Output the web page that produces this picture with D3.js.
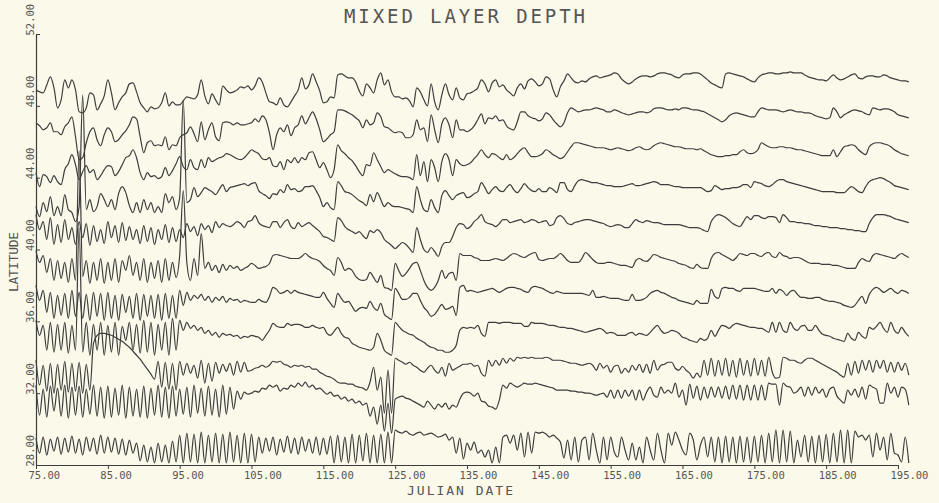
<!DOCTYPE html>
<html>
<head>
<meta charset="utf-8">
<script src="https://cdn.jsdelivr.net/npm/d3@7/dist/d3.min.js"></script>
<style>
  html, body { margin: 0; padding: 0; background: #fbf9e9; }
  svg { display: block; }
  text { font-family: "DejaVu Sans Mono", "Liberation Mono", monospace; fill: #555; }
</style>
</head>
<body>
<svg id="chart" width="939" height="503"></svg>
<script>
// Titles and tick values
const chartTitle = "MIXED LAYER DEPTH";
const xTitle = "JULIAN DATE";
const yTitle = "LATITUDE";
const xTickValues = [75, 85, 95, 105, 115, 125, 135, 145, 155, 165, 175, 185, 195];
const yTickValues = [28, 32, 36, 40, 44, 48, 52];

// One trace per latitude; samples every half day starting at day 75
const latitudes = [28, 30, 32, 34, 36, 38, 40, 42, 44, 46, 48];
const firstDay = 75;
const dayStep = 0.5;
// metres of mixed layer depth drawn per degree of latitude
const metresPerDegree = 18;

// Mixed layer depth (m), one array per latitude
const mld48 = [
  16,14,13,21,29,18,-2,6,26,18,26,16,-6,-7,-2,13,11,-4,2,10,
  26,13,-4,3,9,13,22,23,14,3,-2,-6,-1,-3,-2,3,13,0,4,1,
  1,5,9,8,7,11,26,10,2,12,6,1,20,16,13,14,16,19,18,20,
  16,20,28,24,13,4,3,1,8,1,-1,4,10,16,28,17,21,32,24,15,
  3,4,9,8,31,32,30,28,28,24,15,10,22,18,13,26,33,21,26,14,
  9,9,7,8,5,-1,18,14,6,0,22,4,-4,11,22,11,6,18,8,6,
  12,13,15,18,26,22,14,23,26,19,21,16,13,10,18,22,17,25,27,24,
  20,22,29,27,16,9,19,25,32,28,24,23,25,24,27,29,30,28,29,30,
  31,33,32,27,24,22,24,27,29,30,30,29,30,32,33,33,32,31,29,28,
  31,32,32,33,33,32,29,26,23,21,19,18,32,33,32,31,30,29,27,25,
  24,28,31,32,33,33,32,32,33,33,34,33,33,33,31,29,28,27,26,26,
  25,28,31,28,26,27,29,31,32,28,27,29,30,30,29,29,31,30,28,27,
  26,25,25,24
];
const mld46 = [
  19,16,12,14,19,10,10,7,15,19,25,5,-18,-16,-1,10,14,2,-4,7,
  14,10,0,2,7,11,17,25,23,5,-11,-1,1,-4,-3,-4,5,-8,-3,-4,
  4,7,9,15,8,0,20,2,12,19,5,1,19,20,19,17,19,17,17,18,
  19,23,20,26,22,9,-8,7,14,10,17,6,14,17,26,18,24,30,23,12,
  0,3,7,10,32,32,31,29,27,24,21,14,22,17,19,29,25,15,14,11,
  9,10,9,4,4,7,22,12,14,0,27,12,-1,18,24,17,4,22,12,12,
  10,12,16,22,28,18,24,23,26,21,22,16,13,12,20,30,30,26,24,23,
  21,23,29,27,22,18,15,19,29,34,32,30,31,32,32,33,34,33,32,30,
  30,32,31,29,28,27,28,29,30,30,29,30,33,34,34,33,32,32,33,32,
  34,34,33,32,32,31,30,28,26,24,22,20,22,26,28,29,28,27,26,25,
  25,30,34,33,32,32,32,31,30,31,32,31,30,30,29,29,28,26,25,24,
  23,24,34,30,24,27,29,31,32,31,30,28,27,34,33,32,33,33,32,30,
  27,26,25,24
];
const mld44 = [
  5,-9,3,1,-5,2,-4,-7,8,14,23,13,-2,6,12,5,8,-2,2,8,
  12,11,2,6,13,20,22,28,20,5,-2,5,1,2,-1,1,10,2,7,14,
  21,11,8,18,10,8,18,10,20,16,18,20,21,24,23,21,19,18,20,24,
  28,26,24,19,18,20,12,11,16,8,18,15,20,15,20,18,25,26,18,10,
  15,8,0,8,33,27,24,20,17,12,6,2,13,12,25,18,11,5,8,6,
  4,2,1,1,0,-2,23,2,16,-4,18,10,-4,16,24,18,2,18,14,12,
  13,15,19,23,28,23,20,24,23,20,18,23,18,20,24,28,30,25,21,21,
  22,24,28,26,23,21,19,21,26,31,35,35,34,33,32,31,30,30,30,29,
  28,29,30,29,28,27,28,30,31,29,28,29,32,34,35,34,33,32,31,31,
  30,29,29,29,28,29,27,25,23,22,21,21,22,22,23,23,26,28,25,24,
  25,28,35,33,31,30,30,31,31,30,30,29,28,28,27,26,25,24,23,22,
  22,22,28,21,26,31,32,33,32,28,25,23,31,34,35,35,34,33,31,28,
  26,24,23,22
];
const mld42 = [
  7,-3,11,2,17,-2,7,-2,19,4,1,-8,7,119,4,14,2,7,20,14,
  7,14,4,20,27,21,8,1,11,1,14,4,11,1,7,1,20,11,17,4,
  16,114,11,14,26,17,21,26,24,22,19,24,29,22,26,27,28,29,30,28,
  30,31,23,20,18,15,20,19,24,21,29,24,25,22,23,27,27,28,23,16,
  7,11,6,4,32,28,22,21,19,16,13,11,8,19,12,21,14,7,11,8,
  7,7,6,5,4,1,27,14,4,2,14,6,1,18,23,18,14,18,20,21,
  16,17,20,22,31,26,20,24,27,23,22,26,29,24,21,25,30,26,23,22,
  25,22,22,26,24,21,31,31,24,22,28,33,34,33,32,31,31,30,29,28,
  28,27,27,27,28,29,30,28,28,29,30,31,32,31,29,29,29,28,27,27,
  26,26,26,26,26,26,24,22,23,28,26,24,25,25,26,26,27,29,29,26,
  32,31,30,28,27,29,32,34,34,32,31,30,29,28,27,26,25,24,23,22,
  22,22,22,21,21,21,24,27,25,22,21,27,32,34,35,36,35,33,31,28,
  27,26,25,24
];
const mld40 = [
  35,20,28,10,32,5,25,7,30,10,22,5,28,12,26,4,24,8,20,6,
  28,12,24,7,27,9,23,10,20,6,24,8,22,5,20,10,25,7,22,8,
  20,12,26,18,23,14,26,20,24,17,28,22,26,24,23,25,28,26,22,28,
  29,34,27,24,23,22,28,28,22,27,30,23,21,27,23,25,27,24,21,18,
  13,12,10,8,32,29,23,20,18,16,18,14,11,19,17,20,17,10,7,4,
  1,4,7,5,1,-3,22,10,0,-3,2,-2,-7,3,7,7,13,22,26,25,
  21,23,28,31,35,28,26,25,23,26,30,30,27,28,29,30,27,28,30,29,
  27,28,29,24,25,32,34,31,26,25,27,28,29,30,30,29,28,27,26,24,
  23,24,25,24,22,22,26,30,28,27,29,28,27,27,26,25,25,25,25,25,
  24,23,22,22,22,21,19,18,28,33,35,34,32,29,26,24,23,28,33,30,
  34,34,32,31,33,33,32,27,35,32,28,28,27,27,26,26,25,24,24,23,
  23,22,22,22,21,21,20,20,19,19,18,18,26,32,35,35,35,34,33,31,
  30,29,28,27
];
const mld38 = [
  35,23,30,13,27,5,25,7,23,3,27,5,135,9,25,2,23,5,27,2,
  23,5,27,3,25,15,30,10,23,5,27,3,23,7,25,3,27,5,23,8,
  30,95,23,5,27,10,52,17,23,15,20,13,21,15,20,17,19,15,17,19,
  22,20,17,18,19,22,30,31,30,29,28,27,27,27,29,32,29,27,26,24,
  20,17,15,10,28,23,15,17,15,9,6,5,6,13,8,3,10,-2,-3,-5,
  22,15,9,12,17,22,23,15,5,-2,-5,-2,5,15,7,12,13,5,32,30,
  30,30,28,27,25,25,25,26,27,26,25,27,30,32,31,29,28,30,32,33,
  26,25,26,27,27,29,32,29,25,23,23,23,27,33,30,26,23,22,22,23,
  23,22,21,20,20,19,18,25,27,25,24,27,31,30,28,27,26,25,24,22,
  21,20,18,17,21,18,17,17,27,32,33,31,29,27,25,28,32,31,30,32,
  32,30,29,32,33,29,28,33,30,29,27,28,28,27,25,23,22,22,22,21,
  21,21,20,20,19,18,17,17,17,23,27,25,24,30,32,31,30,29,28,27,
  30,32,30,28
];
const mld36 = [
  36,21,31,9,29,3,26,6,28,3,31,5,29,3,27,1,29,5,28,1,
  29,3,26,1,27,9,25,3,28,1,27,5,26,3,27,1,28,3,26,3,
  31,16,29,21,26,23,27,21,25,19,24,21,25,19,23,21,22,19,21,20,
  19,19,22,20,19,25,34,32,28,29,31,28,31,29,28,27,26,25,24,24,
  29,23,18,14,28,23,19,20,15,10,13,14,13,20,14,11,18,7,4,2,
  33,28,22,22,24,28,28,21,14,10,5,7,12,17,12,13,15,6,34,36,
  30,31,30,29,30,31,32,33,31,29,31,33,34,34,33,32,30,29,34,35,
  34,33,31,29,28,30,29,28,28,28,28,28,28,27,26,31,24,24,25,24,
  23,23,23,22,21,21,27,21,21,22,24,28,30,31,29,28,26,24,23,21,
  20,19,18,17,21,18,18,18,32,25,23,33,34,33,33,31,30,33,33,33,
  33,32,31,30,30,33,28,32,30,26,30,31,27,24,24,23,23,24,24,22,
  21,20,20,19,18,16,15,14,16,21,25,18,27,32,34,32,29,31,33,30,
  28,31,30,28
];
const mld34 = [
  37,22,32,7,35,5,33,7,35,4,32,7,130,5,35,2,33,7,35,2,
  32,5,35,2,31,17,35,7,33,4,37,5,35,2,33,7,35,2,39,7,
  37,27,35,29,32,27,30,24,27,22,25,20,24,22,23,21,22,19,21,20,
  22,21,20,17,22,27,34,31,30,30,34,32,33,33,32,30,30,32,30,29,
  30,24,22,26,30,24,20,19,14,12,10,9,8,7,10,24,17,7,4,2,
  35,31,27,25,23,22,19,17,15,12,10,9,7,7,5,5,7,12,27,30,
  29,30,29,32,24,21,35,35,35,34,35,35,35,34,34,34,31,31,35,34,
  34,34,33,32,32,31,30,30,29,29,28,27,26,25,26,27,28,29,27,24,
  25,24,22,22,22,24,25,22,24,23,22,25,29,32,27,24,25,27,26,24,
  20,19,17,16,15,19,17,19,27,21,27,32,31,29,32,34,33,32,31,30,
  30,29,29,27,25,35,25,35,27,25,35,29,27,31,32,27,27,32,27,23,
  22,21,19,18,17,16,24,19,17,25,21,19,30,28,31,35,29,25,35,27,
  24,30,25,21
];
const mld32 = [
  33,8,28,2,30,0,29,3,32,1,30,2,31,0,29,3,50,58,60,60,
  59,58,56,54,52,49,46,42,38,34,29,24,19,14,32,6,31,4,30,3,
  32,18,30,20,28,15,33,10,30,12,31,20,29,22,30,18,32,21,31,22,
  23,25,26,28,26,28,32,31,32,29,28,26,28,27,28,26,27,24,24,21,
  19,17,16,14,11,10,10,9,9,7,6,5,3,11,26,3,16,-20,23,-20,
  35,33,31,29,31,28,26,23,21,25,28,23,20,26,17,30,23,25,27,29,
  29,30,27,28,20,17,33,27,33,28,35,30,35,32,36,35,36,35,36,35,
  35,35,36,35,33,33,33,32,31,30,30,29,28,29,30,28,23,30,25,28,
  21,27,28,20,25,21,28,23,29,21,29,20,33,23,28,29,31,31,25,23,
  27,23,20,15,20,16,33,18,35,17,33,18,35,17,33,16,35,18,33,17,
  35,18,33,17,36,21,15,16,36,35,33,33,31,30,33,35,35,33,31,29,
  27,25,23,21,18,16,30,18,32,20,33,23,33,21,33,25,33,21,31,21,
  31,23,30,18
];
const mld30 = [
  44,14,40,12,43,18,41,13,44,11,42,14,43,12,40,15,44,13,42,11,
  43,12,41,14,44,11,42,13,40,12,43,11,41,14,44,12,42,11,43,13,
  40,15,42,12,44,16,41,13,43,14,40,12,44,15,42,20,38,30,37,35,
  36,38,37,41,40,44,42,44,38,41,40,44,42,46,43,47,42,44,40,41,
  38,35,37,33,34,30,32,28,30,26,28,24,26,13,22,5,24,-2,26,-4,
  30,32,33,31,30,28,26,24,22,28,24,20,25,22,26,20,24,22,30,36,
  37,36,33,36,28,27,23,22,20,29,44,41,46,44,42,44,46,45,45,46,
  45,44,43,42,41,39,39,39,39,38,38,37,37,36,36,35,34,35,36,32,
  39,31,39,31,39,33,39,29,39,29,37,42,34,32,42,36,39,36,46,32,
  39,24,45,31,43,29,42,31,42,32,42,31,43,30,44,30,44,29,44,29,
  44,29,44,29,46,45,45,24,46,43,42,36,38,42,33,42,34,42,36,40,
  32,40,42,33,29,26,39,34,40,32,42,30,44,42,40,26,26,46,36,42,
  32,42,40,24
];
const mld28 = [
  27,12,28,10,26,14,28,11,27,13,29,12,26,10,28,14,27,11,30,12,
  28,13,27,11,26,10,25,12,22,4,20,3,18,2,22,3,20,2,24,3,
  30,2,32,3,31,2,33,2,30,3,32,2,31,2,33,3,30,2,32,2,
  31,3,28,12,27,14,28,10,26,13,29,12,27,11,28,14,26,12,28,10,
  27,11,29,2,30,3,28,2,31,2,30,4,32,2,30,2,31,2,33,2,
  35,33,32,34,31,30,32,33,30,31,32,30,28,29,31,25,28,12,27,6,
  22,15,23,12,15,8,15,2,18,2,28,30,22,30,15,32,8,33,12,33,
  32,33,31,28,30,27,23,7,25,5,28,3,25,28,5,32,15,2,28,5,
  28,13,8,28,15,5,22,5,18,2,28,15,5,32,15,2,32,20,33,25,
  15,10,32,25,5,20,28,8,28,3,28,2,29,3,28,2,29,3,28,2,
  29,3,30,2,32,3,35,2,35,3,34,2,25,8,30,3,29,2,30,3,
  31,2,32,3,35,2,35,2,34,28,30,25,30,8,32,15,28,5,32,12,
  10,3,28,2
];

const traces = [mld28, mld30, mld32, mld34, mld36, mld38, mld40, mld42, mld44, mld46, mld48]
  .map((values, i) => ({ lat: latitudes[i], values }));

const svg = d3.select("#chart");
const ink = "#3d3d3d";

const x = d3.scaleLinear().domain([75, 195]).range([36, 898]);
const y = d3.scaleLinear().domain([28, 52]).range([465, 34]);

// Traces
const line = d3.line()
  .x((d, i) => x(firstDay + i * dayStep))
  .curve(d3.curveMonotoneX);

svg.append("g")
  .selectAll("path")
  .data(traces)
  .join("path")
  .attr("fill", "none")
  .attr("stroke", ink)
  .attr("stroke-width", 1.2)
  .attr("stroke-linejoin", "round")
  .attr("d", t => line.y(d => y(t.lat + d / metresPerDegree))(t.values));

// X axis
const fmt = d3.format(".2f");
const gx = svg.append("g")
  .attr("transform", `translate(0,${y(28)})`)
  .call(d3.axisBottom(x).tickValues(xTickValues).tickFormat(fmt).tickSize(4).tickSizeOuter(0));
gx.select(".domain").attr("stroke", ink).attr("stroke-width", 1.2);
gx.selectAll(".tick line").attr("stroke", ink);
gx.selectAll(".tick text")
  .attr("text-anchor", "start")
  .attr("x", -8)
  .attr("y", 13.5)
  .attr("dy", 0)
  .style("font-size", "10.5px")
  .style("font-family", "DejaVu Sans Mono, monospace")
  .attr("fill", "#555");

// Y axis
const gy = svg.append("g")
  .attr("transform", `translate(${x(75)},0)`)
  .call(d3.axisLeft(y).tickValues(yTickValues).tickFormat(fmt).tickSize(-4).tickSizeOuter(0));
gy.select(".domain").attr("stroke", ink).attr("stroke-width", 1.2);
gy.selectAll(".tick line").attr("stroke", ink);
gy.selectAll(".tick text")
  .attr("text-anchor", "start")
  .attr("transform", "translate(-2,1) rotate(-90)")
  .attr("x", 0)
  .attr("y", 0)
  .attr("dy", 0)
  .style("font-size", "10.5px")
  .style("font-family", "DejaVu Sans Mono, monospace")
  .attr("fill", "#555");

// Titles
svg.append("text")
  .attr("x", 344).attr("y", 23)
  .attr("textLength", 241).attr("lengthAdjust", "spacing")
  .style("font-size", "19px")
  .text(chartTitle);

svg.append("text")
  .attr("x", 407).attr("y", 495)
  .attr("textLength", 106).attr("lengthAdjust", "spacing")
  .style("font-size", "13px")
  .text(xTitle);

svg.append("text")
  .attr("transform", "translate(18,292) rotate(-90)")
  .attr("textLength", 60).attr("lengthAdjust", "spacing")
  .style("font-size", "13px")
  .text(yTitle);
</script>
</body>
</html>
